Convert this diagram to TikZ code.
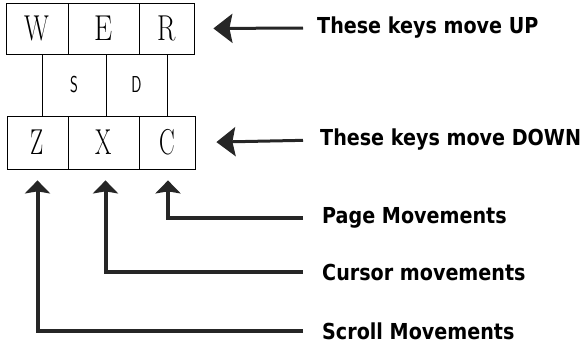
\documentclass[tikz,border=0pt]{standalone}
\usepackage{fontspec}
\newfontfamily\labelfont[FakeStretch=0.87]{DejaVu Sans}
\usetikzlibrary{arrows.meta}

\begin{document}
\begin{tikzpicture}[
    x=1pt, y=-1pt,
    % Styles
    key/.style={% For the big keys
        rectangle,
        draw,
        line width=0.8pt,
        minimum height=51pt,
        inner sep=0pt,
        font=\fontsize{36}{36}\selectfont,
        },
    smallkey/.style={% For S and D
        rectangle,
        draw,
        line width=0.8pt,
        minimum height=62pt,
        inner sep=0pt,
        font=\sffamily\fontsize{23}{23}\selectfont,
        },
    note/.style={% For the labels on the right
        anchor=west,
        inner sep=0pt,
        font=\labelfont\bfseries\fontsize{22}{22}\selectfont,
        },
    toparrow/.style={% Arrows pointing at a key row
        -{Stealth[length=19pt, width=29pt, inset=3pt]},
        line width=3pt,
        black!85,
        },
    uparrow/.style={% Arrows from below
        -{Stealth[length=13pt, width=25pt, inset=2pt]},
        line width=4pt,
        black!85,
        },
    ]
\useasboundingbox (0,0) rectangle (587,348);
% Draw the keys
\node [smallkey, minimum width=64pt] (S) at (74,85) {\scalebox{0.65}[1]{S}};
\node [smallkey, minimum width=61pt] (D) at (136.5,85) {\scalebox{0.65}[1]{D}};
\node [key, minimum width=62pt] (W) at (37,28.5) {\scalebox{0.72}[1]{W}};
\node [key, minimum width=71pt] (E) at (103.5,28.5) {\scalebox{0.8}[1]{E}};
\node [key, minimum width=55pt] (R) at (166.5,28.5) {\scalebox{0.75}[1]{R}};
\node [key, minimum width=61pt, minimum height=53pt] (Z) at (37.5,142.5) {\scalebox{0.65}[1]{Z}};
\node [key, minimum width=71pt, minimum height=53pt] (X) at (103.5,142.5) {\scalebox{0.65}[1]{X}};
\node [key, minimum width=56pt, minimum height=53pt] (C) at (167,142.5) {\scalebox{0.65}[1]{C}};
% Draw the labels
\node [note] (up) at (317,28) {These keys move UP};
\node [note] (down) at (320,140) {These keys move DOWN};
\node [note] (page) at (322,218) {Page Movements};
\node [note] (cursor) at (322,272) {Cursor movements};
\node [note] (scroll) at (322,331) {Scroll Movements};
% Connect labels and keys
\draw [toparrow, shorten <=14pt, shorten >=19pt] (up.west) -- (R.east);
\draw [toparrow, shorten <=17pt, shorten >=21pt] (down.west) -- (C.east);
\draw [uparrow, shorten <=19pt, shorten >=11pt] (page.west) -| ([xshift=1pt]C.south);
\draw [uparrow, shorten <=19pt, shorten >=11pt] (cursor.west) -| ([xshift=2pt]X.south);
\draw [uparrow, shorten <=19pt, shorten >=11pt] (scroll.west) -| (Z.south);
\end{tikzpicture}
\end{document}
